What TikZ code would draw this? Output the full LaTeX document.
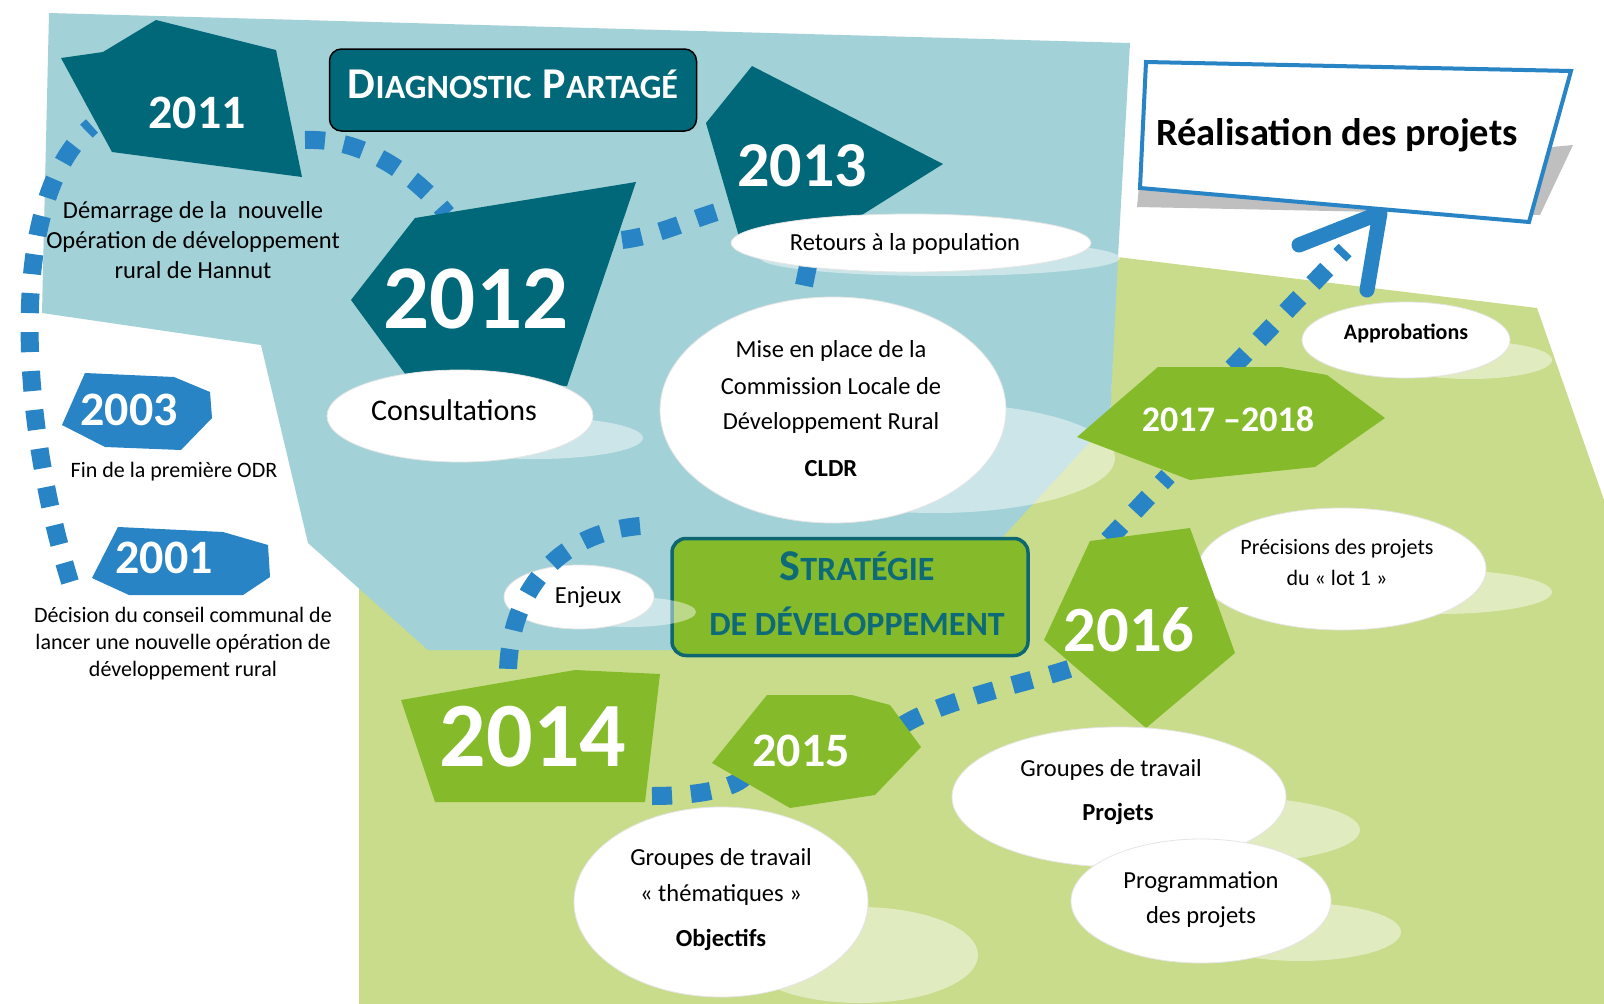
\documentclass[tikz,border=0pt]{standalone}
\usepackage{fontspec}
\setmainfont{Carlito}
\usetikzlibrary{shapes.geometric}
\definecolor{bgblue}{HTML}{A2D1D7}
\definecolor{bggreen}{HTML}{C8DC8B}
\definecolor{darkteal}{HTML}{006878}
\definecolor{brightgreen}{HTML}{85BB2B}
\definecolor{midblue}{HTML}{2884C4}
\definecolor{sttext}{HTML}{0F6A78}
\definecolor{stborder}{HTML}{0E6670}
\newcommand\mysbig[1]{{\fontsize{44}{48}\selectfont #1}}
\newcommand\mysmall[1]{{\fontsize{34}{40}\selectfont #1}}
\begin{document}
\begin{tikzpicture}[x=1pt,y=-1pt,
  yr/.style={text=white, inner sep=0pt},
  ell/.style={ellipse, fill=white, draw=black!10, line width=0.8pt, inner sep=0pt},
  shd/.style={fill=white, opacity=0.45},
  txt/.style={font=\fontsize{24.5}{30}\selectfont, anchor=base, inner sep=0pt},
  stxt/.style={font=\fontsize{22}{27}\selectfont, anchor=base, inner sep=0pt},
  dashline/.style={draw=midblue, line width=18pt, dash pattern=on 20pt off 19pt},
]
\useasboundingbox (0,0) rectangle (1604,1004);
\fill[white] (0,0) rectangle (1604,1004);
% backgrounds
\fill[bggreen] (359,1004) -- (359,588) -- (1110,420) -- (1117,257) -- (1537,308) -- (1604,500) -- (1604,1004) -- cycle;
\fill[bgblue] (49,13) -- (1130,43) -- (1118,257) -- (1110,420) -- (1000,540) -- (1000,650) -- (428,650) -- (308,543) -- (261,345) -- (42,313) -- cycle;

% Realisation box
\fill[black!25] (1139,186) -- (1573,145) -- (1540,215) -- (1380,212) -- (1137,207) -- cycle;
\coordinate (arrbarb) at (1299,245);
\coordinate (arrtip) at (1380,213);
\coordinate (arrfoot) at (1367,290);
\draw[midblue, line width=15pt, line cap=round, line join=round] (arrbarb) -- (arrtip) -- (arrfoot);
\filldraw[fill=white, draw=midblue, line width=4pt] (1146,62) -- (1571,71) -- (1529,222) -- (1140,188) -- cycle;
\node[font=\bfseries\fontsize{38.5}{40}\selectfont, anchor=base, inner sep=0pt] (real) at (1337,145) {Réalisation des projets};

% title boxes
\node[draw=black, fill=darkteal, rounded corners=12pt, line width=1.5pt, minimum width=367pt, minimum height=82pt] (diag) at (513,90) {};
\node[text=white, font=\bfseries, anchor=base, inner sep=0pt] (diagtxt) at (513,98) {\mysbig{D}\mysmall{IAGNOSTIC}\hspace{11pt}\mysbig{P}\mysmall{ARTAGÉ}};
\node[draw=stborder, fill=brightgreen, rounded corners=14pt, line width=3.5pt, minimum width=356pt, minimum height=117pt] (strat) at (850,597) {};
\node[text=sttext, font=\bfseries, anchor=base, inner sep=0pt] (strat1) at (857,580) {\mysbig{S}\mysmall{TRATÉGIE}};
\node[text=sttext, font=\bfseries, anchor=base, inner sep=0pt] (strat2) at (857,635) {\mysmall{DE DÉVELOPPEMENT}};

% ellipse shadows
\fill[shd] (535,438) ellipse [x radius=108, y radius=21];
\fill[shd] (940,258) ellipse [x radius=180, y radius=18];
\fill[shd] (935,458) ellipse [x radius=180, y radius=55];
\fill[shd] (630,612) ellipse [x radius=66, y radius=15];
\fill[shd] (860,955) ellipse [x radius=118, y radius=48];
\fill[shd] (1470,360) ellipse [x radius=82, y radius=19];
\fill[shd] (1440,592) ellipse [x radius=112, y radius=22];
\fill[shd] (1230,830) ellipse [x radius=130, y radius=33];
\fill[shd] (1300,932) ellipse [x radius=101, y radius=29];

% ellipses under the path
\node[ell, minimum width=150pt, minimum height=64pt] (enj) at (579,597) {};
\node[txt] (enjt) at (588,603) {Enjeux};
\node[ell, minimum width=288pt, minimum height=122pt] (prec) at (1342,569) {};
\node[stxt] (prec1) at (1337,554) {Précisions des projets};
\node[stxt] (prec2) at (1337,585) {du « lot 1 »};

% connector end points
\coordinate (a1) at (70,582);   \coordinate (a2) at (92,126);
\coordinate (b1) at (305,140);  \coordinate (b2) at (447,214);
\coordinate (c1) at (622,240);  \coordinate (c2) at (734,207);
\coordinate (d1) at (808,266);  \coordinate (d2) at (801,300);
\coordinate (e1) at (640,526);  \coordinate (e2) at (508,685);
\coordinate (f1) at (652,796);  \coordinate (f2) at (746,775);
\coordinate (g1) at (903,725);  \coordinate (g2) at (1072,668);
\coordinate (h1) at (1108,540); \coordinate (h2) at (1168,476);
\coordinate (i1) at (1232,368); \coordinate (i2) at (1345,250);

% dashed path
\draw[dashline] (a1) .. controls +(-50,-162) and +(-87,74) .. (a2);
\draw[dashline] (b1) .. controls +(55,-2) and +(-37,-44) .. (b2);
\draw[dashline] (c1) .. controls +(40,-5) and +(-40,10) .. (c2);
\draw[dashline] (d1) -- (d2);
\draw[dashline] (e1) .. controls +(-75,6) and +(-3,-100) .. (e2);
\draw[dashline] (f1) .. controls +(50,0) and +(-8,12) .. (f2);
\draw[dashline] (g1) .. controls +(40,-25) and +(-45,15) .. (g2);
\draw[dashline] (h1) -- (h2);
\draw[dashline] (i1) -- (i2);

% year shapes
\fill[darkteal] (61,58) -- (103,52) -- (156,20) -- (276,50) -- (302,177) -- (112,152) -- cycle;
\node[yr, font=\bfseries\fontsize{48}{48}\selectfont] (y2011) at (197,113) {2011};
\fill[darkteal] (415,218) -- (636,182) -- (567,386) -- (406,375) -- (351,300) -- cycle;
\node[yr, font=\bfseries\fontsize{91}{91}\selectfont] (y2012) at (476,299) {2012};
\fill[darkteal] (752,66) -- (943,164) -- (822,240) -- (740,240) -- (706,123) -- cycle;
\node[yr, font=\bfseries\fontsize{64}{64}\selectfont] (y2013) at (802,166) {2013};
\fill[midblue] (85,373) -- (174,377) -- (210,392) -- (212,418) -- (181,450) -- (105,447) -- (62,425) -- cycle;
\node[yr, font=\bfseries\fontsize{48}{48}\selectfont] (y2003) at (129,410) {2003};
\fill[midblue] (118,527) -- (223,532) -- (268,545) -- (270,577) -- (243,595) -- (129,595) -- (92,578) -- cycle;
\node[yr, font=\bfseries\fontsize{48}{48}\selectfont] (y2001) at (164,558) {2001};
\fill[brightgreen] (401,700) -- (575,670) -- (660,674) -- (645,802) -- (435,802) -- cycle;
\node[yr, font=\bfseries\fontsize{92}{92}\selectfont] (y2014) at (533,737) {2014};
\fill[brightgreen] (767,695) -- (852,695) -- (890,705) -- (921,747) -- (875,795) -- (790,808) -- (712,763) -- cycle;
\node[yr, font=\bfseries\fontsize{48}{48}\selectfont] (y2015) at (801,751) {2015};
\fill[brightgreen] (1090,541) -- (1190,528) -- (1235,653) -- (1146,728) -- (1044,640) -- cycle;
\node[yr, font=\bfseries\fontsize{64.5}{64}\selectfont] (y2016) at (1129,630) {2016};
\fill[brightgreen] (1158,367) -- (1281,367) -- (1327,375) -- (1385,418) -- (1315,467) -- (1190,480) -- (1077,437) -- cycle;
\node[yr, font=\bfseries\fontsize{36}{36}\selectfont] (y2017) at (1228,419) {2017 –2018};

% free texts
\node[txt] (dem1) at (193,218) {Démarrage de la\ \ nouvelle};
\node[txt] (dem2) at (193,248) {Opération de développement};
\node[txt] (dem3) at (193,278) {rural de Hannut};
\node[stxt] (fin) at (174,477) {Fin de la première ODR};
\node[stxt] (dec1) at (183,622) {Décision du conseil communal de};
\node[stxt] (dec2) at (183,649) {lancer une nouvelle opération de};
\node[stxt] (dec3) at (183,676) {développement rural};

% ellipses
\node[ell, minimum width=266pt, minimum height=92pt] (cons) at (460,416) {};
\node[txt, font=\fontsize{30}{30}\selectfont] (const) at (454,420) {Consultations};
\node[ell, minimum width=360pt, minimum height=58pt] (ret) at (911,243) {};
\node[txt] (rett) at (905,250) {Retours à la population};
\node[ell, minimum width=346pt, minimum height=226pt] (cldr) at (833,410) {};
\node[txt] (cldr1) at (831,357) {Mise en place de la};
\node[txt] (cldr2) at (831,394) {Commission Locale de};
\node[txt] (cldr3) at (831,429) {Développement Rural};
\node[txt, font=\bfseries\fontsize{24.5}{30}\selectfont] (cldr4) at (831,476) {CLDR};
\node[ell, minimum width=294pt, minimum height=190pt] (gth) at (721,902) {};
\node[txt] (gth1) at (721,865) {Groupes de travail};
\node[txt] (gth2) at (721,901) {« thématiques »};
\node[txt, font=\bfseries\fontsize{24.5}{30}\selectfont] (gth3) at (721,946) {Objectifs};
\node[ell, minimum width=208pt, minimum height=76pt] (appr) at (1406,340) {};
\node[stxt, font=\bfseries\fontsize{22}{27}\selectfont] (apprt) at (1406,339) {Approbations};
\node[ell, minimum width=334pt, minimum height=140pt] (gproj) at (1119,797) {};
\node[txt] (gproj1) at (1111,776) {Groupes de travail};
\node[txt, font=\bfseries\fontsize{24.5}{30}\selectfont] (gproj2) at (1118,820) {Projets};
\node[ell, minimum width=260pt, minimum height=124pt] (prog) at (1201,901) {};
\node[txt] (prog1) at (1201,888) {Programmation};
\node[txt] (prog2) at (1201,923) {des projets};
\end{tikzpicture}
\end{document}
